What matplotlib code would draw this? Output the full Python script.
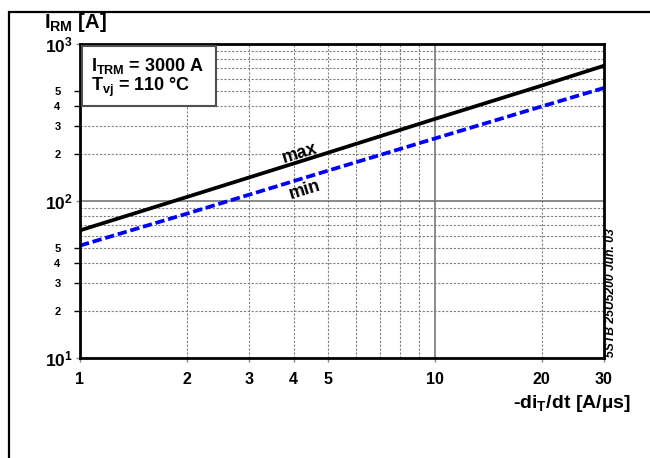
import numpy as np
import matplotlib
matplotlib.use('Agg')
import matplotlib.pyplot as plt
from matplotlib.patches import Rectangle
from matplotlib.ticker import FixedLocator, FixedFormatter, NullFormatter

plt.rcParams['font.family'] = ['Liberation Sans', 'DejaVu Sans']
plt.rcParams['font.weight'] = 'bold'
plt.rcParams['mathtext.fontset'] = 'custom'
plt.rcParams['mathtext.rm'] = 'Liberation Sans:bold'
plt.rcParams['mathtext.bf'] = 'Liberation Sans:bold'
plt.rcParams['mathtext.it'] = 'Liberation Sans:bold'
plt.rcParams['mathtext.default'] = 'bf'

didt = [1, 2, 5, 10, 20, 30]
irm_max = [65, 106, 203, 333, 543, 727]
irm_min = [52, 83, 156, 250, 400, 525]

xticks = [1, 2, 3, 4, 5, 10, 20, 30]
xticklabels = ['1', '2', '3', '4', '5', '10', '20', '30']
yminor = [2, 3, 4, 5, 20, 30, 40, 50, 200, 300, 400, 500]
yminor_labels = ['2', '3', '4', '5', '2', '3', '4', '5', '2', '3', '4', '5']

W, H = 650, 458
fig = plt.figure(figsize=(6.5, 4.58), dpi=100)

def px(x, y):
	return (x / W, 1 - y / H)

# outer frame (runs off the right and bottom edge)
fig.patches.append(Rectangle((9 / W, -1.0), 2.0, 2.0 - 12 / H,
		transform=fig.transFigure, fill=False, edgecolor='black', linewidth=1.6))

ax = fig.add_axes([80 / W, 1 - 358 / H, (604 - 80) / W, (358 - 44) / H])
ax.set_xscale('log')
ax.set_yscale('log')
ax.set_xlim(1, 30)
ax.set_ylim(10, 1000)

# grid
for v in [2, 3, 4, 5, 6, 7, 8, 9, 20]:
	ax.axvline(v, color='#808080', linestyle=(0, (2, 1.5)), linewidth=0.8, zorder=1)
for v in [20, 30, 40, 50, 60, 70, 80, 90, 200, 300, 400, 500, 600, 700, 800, 900]:
	ax.axhline(v, color='#808080', linestyle=(0, (2, 1.5)), linewidth=0.8, zorder=1)
ax.axvline(10, color='#777777', linewidth=1.2, zorder=1)
ax.axhline(100, color='#777777', linewidth=1.2, zorder=1)

ax.plot(didt, irm_max, color='black', linewidth=2.7, zorder=4)
ax.plot(didt, irm_min, color='#0000ff', linewidth=2.7, linestyle=(0, (2.5, 1.0)), zorder=4)

ax.text(4.17, 201, 'max', rotation=17, ha='center', va='center', fontsize=13, fontweight='bold')
ax.text(4.3, 117, 'min', rotation=17, ha='center', va='center', fontsize=13, fontweight='bold')

for s in ax.spines.values():
	s.set_linewidth(2)
	s.set_zorder(5)

ax.xaxis.set_major_locator(FixedLocator(xticks))
ax.set_xticklabels(xticklabels)
ax.xaxis.set_minor_locator(FixedLocator([]))
ax.xaxis.set_minor_formatter(NullFormatter())
ax.tick_params(axis='x', which='major', direction='out', length=3, width=1, color='#888888',
		labelsize=11.5, pad=7)

ax.yaxis.set_major_locator(FixedLocator([10, 100, 1000]))
ax.set_yticklabels([r'$10^{1}$', r'$10^{2}$', r'$10^{3}$'])
ax.yaxis.set_minor_locator(FixedLocator(yminor))
ax.yaxis.set_minor_formatter(FixedFormatter(yminor_labels))
ax.tick_params(axis='y', which='major', direction='out', length=3, width=1, color='#888888',
		labelsize=12.5, pad=2)
ax.tick_params(axis='y', which='minor', direction='out', length=4, width=1, color='black',
		labelsize=8, pad=10)
for t in ax.get_xticklabels() + ax.get_yticklabels() + ax.yaxis.get_minorticklabels():
	t.set_fontweight('bold')

# condition box
x0, y0 = px(82, 106)
x1, y1 = px(216, 46)
fig.patches.append(Rectangle((x0, y0), x1 - x0, y1 - y0, transform=fig.transFigure,
		facecolor='white', edgecolor='#505050', linewidth=1.5, zorder=6))
fig.text(*px(91, 66), r'I$_{TRM}$ = 3000 A', fontsize=13, fontweight='bold', va='center', zorder=7)
fig.text(*px(91, 87), r'T$_{vj}$ = 110 °C', fontsize=13, fontweight='bold', va='center', zorder=7)

fig.text(*px(44, 23), r'I$_{RM}$ [A]', fontsize=14.5, fontweight='bold', va='center', ha='left')
fig.text(*px(631, 404), r'-di$_{T}$/dt [A/µs]', fontsize=14, fontweight='bold', va='center', ha='right')
fig.text(*px(611, 357), '5STB 25U5200 Jun. 03', fontsize=8.7, fontweight='bold', style='italic',
		rotation=90, va='bottom', ha='center')

fig.savefig('out.png', dpi=100)
